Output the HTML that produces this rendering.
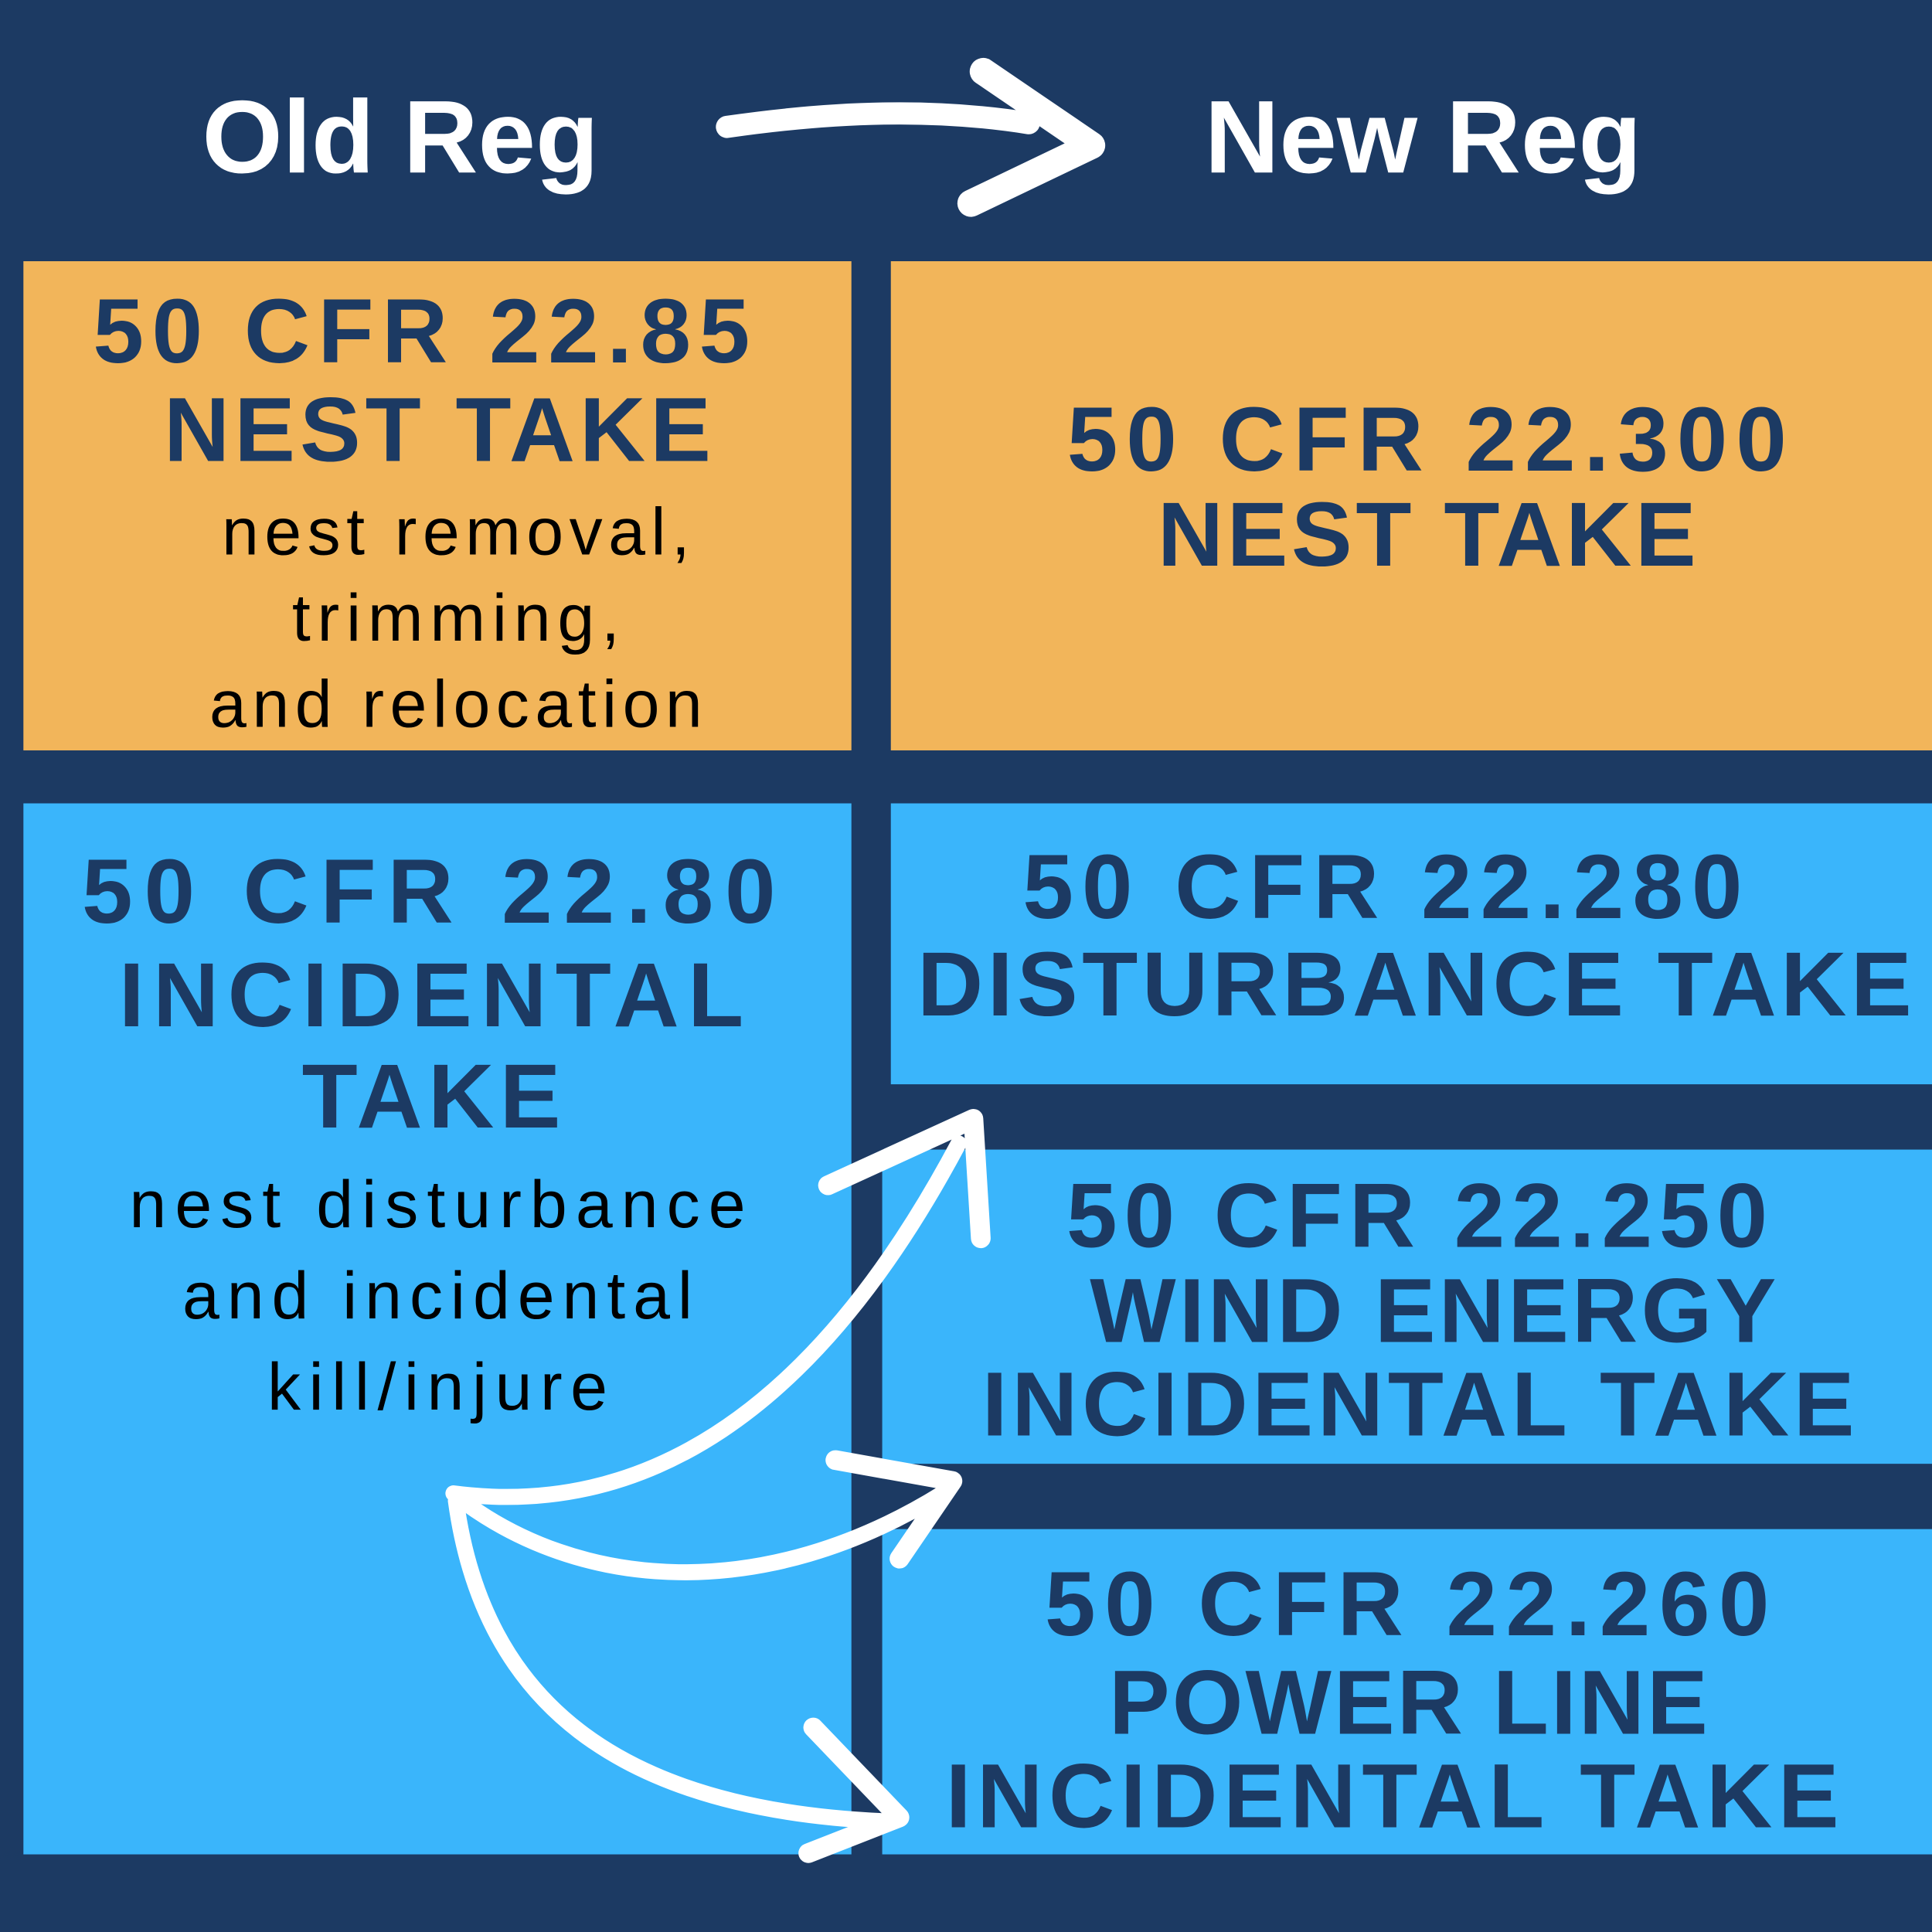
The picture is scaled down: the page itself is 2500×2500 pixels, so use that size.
<!DOCTYPE html>
<html><head><meta charset="utf-8"><style>html,body{margin:0;padding:0;background:#1c3a63}svg{display:block}</style></head>
<body>
<svg width="2500" height="2500" viewBox="0 0 1568 1568" xmlns="http://www.w3.org/2000/svg">
<rect width="1568" height="1568" fill="#1c3a63"/>
<rect x="19" y="212" width="672" height="397" fill="#f2b55a"/>
<rect x="723" y="212" width="845" height="397" fill="#f2b55a"/>
<rect x="19" y="652" width="672" height="853" fill="#3ab5fb"/>
<rect x="723" y="652" width="845" height="228" fill="#3ab5fb"/>
<rect x="716" y="933" width="852" height="255" fill="#3ab5fb"/>
<rect x="716" y="1241" width="852" height="264" fill="#3ab5fb"/>
<g font-family="Liberation Sans, sans-serif" text-anchor="middle">
<g fill="#fff" font-weight="bold" font-size="84">
<text x="325" y="140">Old Reg</text>
<text x="1155" y="140">New Reg</text>
</g>
<g fill="#1c3a63" font-weight="bold" font-size="74" lengthAdjust="spacing">
<text x="342" y="294" textLength="533" lengthAdjust="spacing">50 CFR 22.85</text>
<text x="355" y="374" textLength="444" lengthAdjust="spacing">NEST TAKE</text>
<text x="1158" y="382" textLength="584" lengthAdjust="spacing">50 CFR 22.300</text>
<text x="1158" y="459" textLength="437" lengthAdjust="spacing">NEST TAKE</text>
<text x="348" y="749" textLength="563" lengthAdjust="spacing">50 CFR 22.80</text>
<text x="350" y="833" textLength="507" lengthAdjust="spacing">INCIDENTAL</text>
<text x="350" y="915" textLength="210" lengthAdjust="spacing">TAKE</text>
<text x="1122" y="745" textLength="584" lengthAdjust="spacing">50 CFR 22.280</text>
<text x="1148" y="824" textLength="807" lengthAdjust="spacing">DISTURBANCE TAKE</text>
<text x="1150" y="1012" textLength="569" lengthAdjust="spacing">50 CFR 22.250</text>
<text x="1163" y="1089" textLength="557" lengthAdjust="spacing">WIND ENERGY</text>
<text x="1151" y="1165" textLength="708" lengthAdjust="spacing">INCIDENTAL TAKE</text>
<text x="1142" y="1327" textLength="588" lengthAdjust="spacing">50 CFR 22.260</text>
<text x="1143" y="1407" textLength="486" lengthAdjust="spacing">POWER LINE</text>
<text x="1130" y="1483" textLength="725" lengthAdjust="spacing">INCIDENTAL TAKE</text>
</g>
<g fill="#000" font-size="54">
<text x="370" y="450" textLength="380" lengthAdjust="spacing">nest removal,</text>
<text x="370" y="520" textLength="266" lengthAdjust="spacing">trimming,</text>
<text x="370" y="590" textLength="400" lengthAdjust="spacing">and relocation</text>
<text x="355" y="996" textLength="500" lengthAdjust="spacing">nest disturbance</text>
<text x="355" y="1070" textLength="414" lengthAdjust="spacing">and incidental</text>
<text x="355" y="1144" textLength="276" lengthAdjust="spacing">kill/injure</text>
</g>
</g>
<g fill="none" stroke="#fff" stroke-linecap="round" stroke-linejoin="round">
<path d="M590,103 C680,90 760,88 835,100" stroke-width="18"/>
<path d="M798,58 L886,118 L788,165" stroke-width="22"/>
<path d="M368,1212 C520,1232 660,1150 778,928" stroke-width="13"/>
<path d="M672,962 L790,908 L796,1005" stroke-width="16"/>
<path d="M370,1214 C470,1292 620,1302 765,1212" stroke-width="13"/>
<path d="M678,1185 L773,1202 L730,1265" stroke-width="16"/>
<path d="M370,1218 C392,1380 500,1468 715,1478" stroke-width="13"/>
<path d="M660,1402 L730,1475 L656,1504" stroke-width="16"/>
</g>
</svg>
</body></html>
